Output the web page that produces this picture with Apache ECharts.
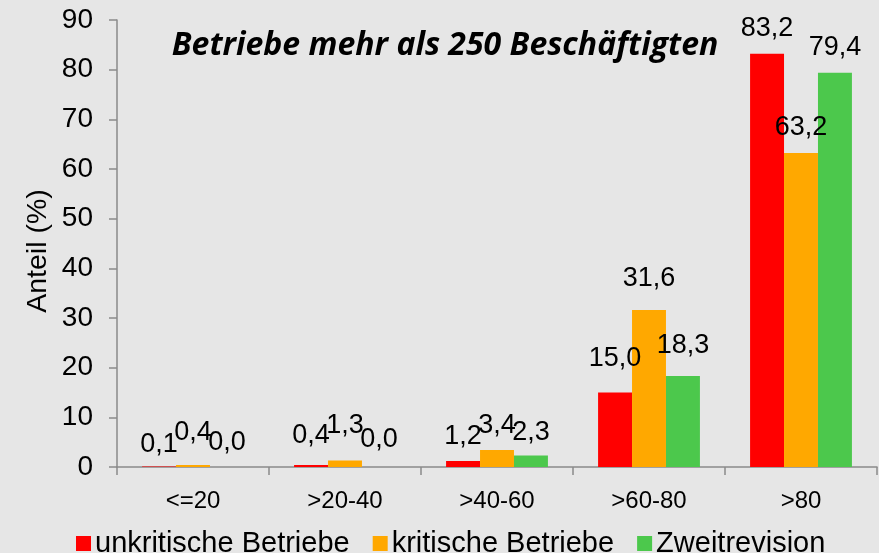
<!DOCTYPE html>
<html>
<head>
<meta charset="utf-8">
<style>
  html, body { margin: 0; padding: 0; background: #e6e6e6; }
  #chart { width: 879px; height: 553px; }
</style>
<script src="https://cdn.jsdelivr.net/npm/echarts@6/dist/echarts.min.js"></script>
</head>
<body>
<div id="chart"></div>
<script>
// Anteil der Betriebe je Klasse (Betriebe mit mehr als 250 Beschäftigten)
const categories = ['<=20', '>20-40', '>40-60', '>60-80', '>80'];
const seriesNames = ['unkritische Betriebe', 'kritische Betriebe', 'Zweitrevision'];
const unkritisch = [0.1, 0.4, 1.2, 15.0, 83.2];
const kritisch = [0.4, 1.3, 3.4, 31.6, 63.2];
const zweitrevision = [0.0, 0.0, 2.3, 18.3, 79.4];
const yTicks = [0, 10, 20, 30, 40, 50, 60, 70, 80, 90];

// extra vertical lift (px) of individual value labels, per series and category
const labelLift = [
  [-3, 5, 0, 9, 1],
  [8, 10, 0, 7, 1],
  [0, 3, -1, 6, 1]
];

const colors = ['#ff0000', '#ffa800', '#4cc84c'];
const fontFamily = '"Liberation Sans", Arial, sans-serif';
const axisGray = '#8a8a8a';

const fmt = v => v.toFixed(1).replace('.', ',');

function buildSeries(name, values, idx) {
  return {
    name: name,
    type: 'bar',
    barGap: '0%',
    barCategoryGap: '33%',
    itemStyle: { color: colors[idx] },
    label: {
      show: true,
      position: 'top',
      distance: 11,
      color: '#000',
      fontFamily: fontFamily,
      fontSize: 27,
      formatter: p => fmt(p.value)
    },
    data: values.map((v, i) => ({
      value: v,
      label: { offset: [0, -labelLift[idx][i]] }
    }))
  };
}

const chart = echarts.init(document.getElementById('chart'), null, { renderer: 'canvas' });
chart.setOption({
  backgroundColor: '#e6e6e6',
  animation: false,
  textStyle: { fontFamily: fontFamily },
  grid: { left: 117, right: 2, top: 20, bottom: 86, containLabel: false },
  graphic: [{
    type: 'text',
    x: 445,
    y: 46,
    style: {
      text: 'Betriebe mehr als 250 Beschäftigten',
      fontFamily: '"Open Sans", Lato, sans-serif',
      fontWeight: 'bold',
      fontStyle: 'italic',
      fontSize: 32,
      fill: '#000',
      textAlign: 'center',
      textVerticalAlign: 'middle'
    }
  }, {
    // y-axis title
    type: 'text',
    x: 38,
    y: 251,
    rotation: Math.PI / 2,
    style: {
      text: 'Anteil (%)',
      fontFamily: fontFamily,
      fontSize: 28.5,
      fill: '#000',
      textAlign: 'center',
      textVerticalAlign: 'middle'
    }
  }],
  legend: {
    left: 71,
    top: 524,
    itemWidth: 15,
    itemHeight: 15,
    itemGap: 23,
    icon: 'rect',
    textStyle: { fontSize: 29, color: '#000', fontFamily: fontFamily, padding: [0, 0, 0, -1] },
    data: seriesNames
  },
  xAxis: {
    type: 'category',
    data: categories,
    axisLine: { lineStyle: { color: axisGray, width: 1.5 } },
    axisTick: { show: true, length: 8, lineStyle: { color: axisGray, width: 1.5 } },
    axisLabel: { color: '#000', fontSize: 24, margin: 22, fontFamily: fontFamily }
  },
  yAxis: {
    type: 'value',
    min: yTicks[0],
    max: yTicks[yTicks.length - 1],
    interval: yTicks[1] - yTicks[0],
    axisLine: { show: true, lineStyle: { color: axisGray, width: 1.5 } },
    axisTick: { show: true, length: 8, lineStyle: { color: axisGray, width: 1.5 } },
    splitLine: { show: false },
    axisLabel: { color: '#000', fontSize: 28, margin: 24, fontFamily: fontFamily }
  },
  series: [
    buildSeries(seriesNames[0], unkritisch, 0),
    buildSeries(seriesNames[1], kritisch, 1),
    buildSeries(seriesNames[2], zweitrevision, 2)
  ]
});
</script>
</body>
</html>
